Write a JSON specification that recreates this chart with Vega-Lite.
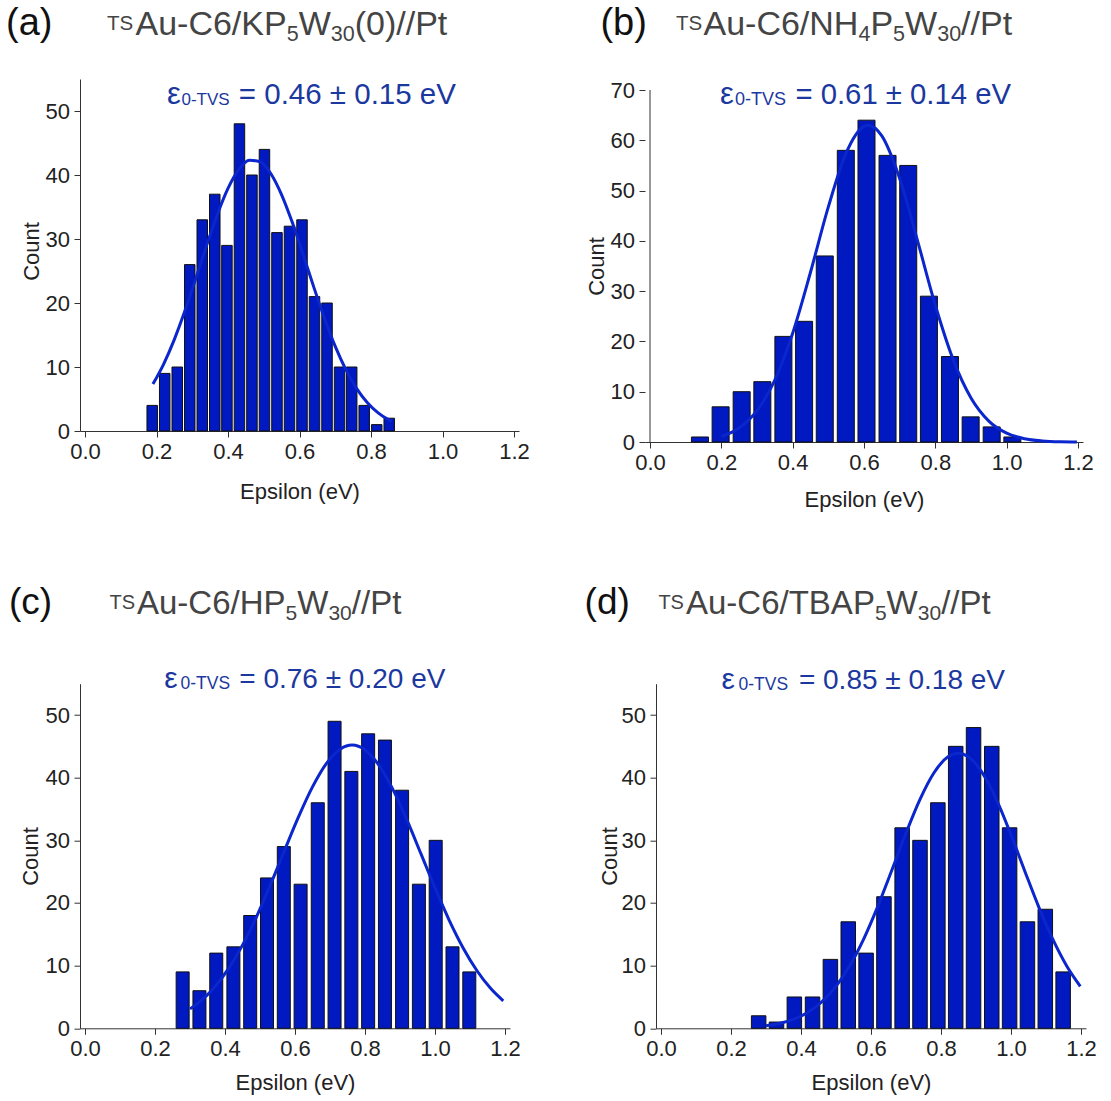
{
  "$schema": "https://vega.github.io/schema/vega-lite/v6.json",
  "background": "white",
  "padding": {"left": 6, "top": 4, "right": 2, "bottom": 2},
  "config": {
    "view": {"stroke": null},
    "font": "Liberation Sans",
    "axis": {
      "grid": false,
      "labelFont": "Liberation Sans",
      "titleFont": "Liberation Sans",
      "labelFontSize": 22,
      "titleFontSize": 22,
      "titleFontWeight": "normal",
      "labelColor": "#222",
      "titleColor": "#222",
      "domainColor": "#333",
      "tickColor": "#333",
      "labelFlush": false,
      "labelOverlap": false,
      "labelBound": false
    },
    "axisX": {"labelPadding": 4},
    "axisY": {"labelPadding": 4.5}
  },
  "datasets": {
    "a_bars": [
      {"eps": 0.188, "count": 4}, {"eps": 0.223, "count": 9}, {"eps": 0.258, "count": 10}, {"eps": 0.293, "count": 26},
      {"eps": 0.328, "count": 33}, {"eps": 0.363, "count": 37}, {"eps": 0.397, "count": 29}, {"eps": 0.432, "count": 48},
      {"eps": 0.467, "count": 40}, {"eps": 0.502, "count": 44}, {"eps": 0.537, "count": 31}, {"eps": 0.572, "count": 32},
      {"eps": 0.607, "count": 33}, {"eps": 0.642, "count": 21}, {"eps": 0.677, "count": 20}, {"eps": 0.712, "count": 10},
      {"eps": 0.746, "count": 10}, {"eps": 0.781, "count": 4}, {"eps": 0.816, "count": 1}, {"eps": 0.851, "count": 2}
    ],
    "a_fit": [
      {"eps": 0.19, "count": 7.33}, {"eps": 0.22, "count": 10.46}, {"eps": 0.25, "count": 14.32}, {"eps": 0.28, "count": 18.85},
      {"eps": 0.31, "count": 23.83}, {"eps": 0.34, "count": 28.96}, {"eps": 0.37, "count": 33.8}, {"eps": 0.40, "count": 37.91},
      {"eps": 0.43, "count": 40.84}, {"eps": 0.46, "count": 42.29}, {"eps": 0.49, "count": 42.06}, {"eps": 0.52, "count": 40.2},
      {"eps": 0.55, "count": 36.91}, {"eps": 0.58, "count": 32.56}, {"eps": 0.61, "count": 27.6}, {"eps": 0.64, "count": 22.48},
      {"eps": 0.67, "count": 17.59}, {"eps": 0.70, "count": 13.22}, {"eps": 0.73, "count": 9.55}, {"eps": 0.76, "count": 6.63},
      {"eps": 0.79, "count": 4.42}, {"eps": 0.82, "count": 2.83}, {"eps": 0.85, "count": 1.74}, {"eps": 0.858, "count": 1.52}
    ],
    "b_bars": [
      {"eps": 0.140, "count": 1}, {"eps": 0.198, "count": 7}, {"eps": 0.257, "count": 10}, {"eps": 0.315, "count": 12},
      {"eps": 0.374, "count": 21}, {"eps": 0.432, "count": 24}, {"eps": 0.490, "count": 37}, {"eps": 0.549, "count": 58},
      {"eps": 0.607, "count": 64}, {"eps": 0.666, "count": 57}, {"eps": 0.724, "count": 55}, {"eps": 0.782, "count": 29},
      {"eps": 0.841, "count": 17}, {"eps": 0.899, "count": 5}, {"eps": 0.958, "count": 3}, {"eps": 1.016, "count": 1}
    ],
    "b_fit": [
      {"eps": 0.20, "count": 1.11}, {"eps": 0.25, "count": 2.79}, {"eps": 0.30, "count": 6.22}, {"eps": 0.35, "count": 12.32},
      {"eps": 0.40, "count": 21.64}, {"eps": 0.45, "count": 33.76}, {"eps": 0.50, "count": 46.75}, {"eps": 0.55, "count": 57.49},
      {"eps": 0.60, "count": 62.78}, {"eps": 0.612, "count": 63.0}, {"eps": 0.65, "count": 60.88}, {"eps": 0.70, "count": 52.41},
      {"eps": 0.75, "count": 40.06}, {"eps": 0.80, "count": 27.19}, {"eps": 0.85, "count": 16.38}, {"eps": 0.90, "count": 8.76},
      {"eps": 0.95, "count": 4.16}, {"eps": 1.00, "count": 1.76}, {"eps": 1.05, "count": 0.66}, {"eps": 1.10, "count": 0.22},
      {"eps": 1.15, "count": 0.06}, {"eps": 1.197, "count": 0.02}
    ],
    "c_bars": [
      {"eps": 0.279, "count": 9}, {"eps": 0.327, "count": 6}, {"eps": 0.375, "count": 12}, {"eps": 0.424, "count": 13},
      {"eps": 0.472, "count": 18}, {"eps": 0.520, "count": 24}, {"eps": 0.568, "count": 29}, {"eps": 0.616, "count": 23},
      {"eps": 0.665, "count": 36}, {"eps": 0.713, "count": 49}, {"eps": 0.761, "count": 41}, {"eps": 0.809, "count": 47},
      {"eps": 0.857, "count": 46}, {"eps": 0.906, "count": 38}, {"eps": 0.954, "count": 23}, {"eps": 1.002, "count": 30},
      {"eps": 1.050, "count": 13}, {"eps": 1.098, "count": 9}
    ],
    "c_fit": [
      {"eps": 0.30, "count": 3.1}, {"eps": 0.33, "count": 4.34}, {"eps": 0.37, "count": 6.56}, {"eps": 0.41, "count": 9.52},
      {"eps": 0.45, "count": 13.28}, {"eps": 0.49, "count": 17.8}, {"eps": 0.53, "count": 22.93}, {"eps": 0.57, "count": 28.38},
      {"eps": 0.61, "count": 33.73}, {"eps": 0.65, "count": 38.53}, {"eps": 0.69, "count": 42.29}, {"eps": 0.73, "count": 44.59},
      {"eps": 0.763, "count": 45.2}, {"eps": 0.80, "count": 44.43}, {"eps": 0.84, "count": 41.97}, {"eps": 0.88, "count": 38.09},
      {"eps": 0.92, "count": 33.22}, {"eps": 0.96, "count": 27.83}, {"eps": 1.00, "count": 22.4}, {"eps": 1.04, "count": 17.32},
      {"eps": 1.08, "count": 12.87}, {"eps": 1.12, "count": 9.19}, {"eps": 1.16, "count": 6.3}, {"eps": 1.195, "count": 4.39}
    ],
    "d_bars": [
      {"eps": 0.279, "count": 2}, {"eps": 0.330, "count": 1}, {"eps": 0.381, "count": 5}, {"eps": 0.433, "count": 5},
      {"eps": 0.484, "count": 11}, {"eps": 0.535, "count": 17}, {"eps": 0.586, "count": 12}, {"eps": 0.637, "count": 21},
      {"eps": 0.689, "count": 32}, {"eps": 0.740, "count": 30}, {"eps": 0.791, "count": 36}, {"eps": 0.842, "count": 45},
      {"eps": 0.893, "count": 48}, {"eps": 0.945, "count": 45}, {"eps": 0.996, "count": 32}, {"eps": 1.047, "count": 17},
      {"eps": 1.098, "count": 19}, {"eps": 1.149, "count": 9}
    ],
    "d_fit": [
      {"eps": 0.30, "count": 0.42}, {"eps": 0.34, "count": 0.81}, {"eps": 0.38, "count": 1.47}, {"eps": 0.42, "count": 2.57},
      {"eps": 0.46, "count": 4.25}, {"eps": 0.50, "count": 6.7}, {"eps": 0.54, "count": 10.06}, {"eps": 0.58, "count": 14.37},
      {"eps": 0.62, "count": 19.55}, {"eps": 0.66, "count": 25.3}, {"eps": 0.70, "count": 31.17}, {"eps": 0.74, "count": 36.55},
      {"eps": 0.78, "count": 40.79}, {"eps": 0.82, "count": 43.33}, {"eps": 0.849, "count": 43.9}, {"eps": 0.88, "count": 43.25},
      {"eps": 0.92, "count": 40.61}, {"eps": 0.96, "count": 36.3}, {"eps": 1.00, "count": 30.88}, {"eps": 1.04, "count": 25.0},
      {"eps": 1.08, "count": 19.27}, {"eps": 1.12, "count": 14.14}, {"eps": 1.16, "count": 9.87}, {"eps": 1.198, "count": 6.7}
    ]
  },
  "bounds": "flush",
  "spacing": 604.7,
  "vconcat": [
    {
      "bounds": "flush",
      "spacing": 126,
      "hconcat": [
        {
          "width": 439, "height": 352,
          "layer": [
            {
              "data": {"name": "a_bars"},
              "mark": {"type": "bar", "orient": "vertical", "width": 10.5, "fill": "#0019c0", "stroke": "#111", "strokeWidth": 1},
              "encoding": {
                "x": {"field": "eps", "type": "quantitative", "scale": {"domain": [0, 1.2], "nice": false, "zero": false},
                  "axis": {"title": "Epsilon (eV)", "values": [0, 0.1, 0.2, 0.3, 0.4, 0.5, 0.6, 0.7, 0.8, 0.9, 1.0, 1.1, 1.2],
                    "labelExpr": "round(datum.value*10) % 2 == 0 ? format(datum.value, '.1f') : ''",
                    "tickSize": {"condition": {"test": "round(datum.value*10) % 2 == 0", "value": 6}, "value": 3},
                    "titleY": 67, "titleBaseline": "alphabetic"}},
                "y": {"field": "count", "type": "quantitative", "stack": null, "scale": {"domain": [0, 55], "nice": false},
                  "axis": {"title": "Count", "values": [0, 5, 10, 15, 20, 25, 30, 35, 40, 45, 50],
                    "labelExpr": "datum.value % 10 == 0 ? datum.label : ''",
                    "tickSize": {"condition": {"test": "datum.value % 10 == 0", "value": 6}, "value": 3},
                    "titleX": -42, "titleY": 172, "titleAngle": -90, "titleAlign": "center", "titleBaseline": "alphabetic"}}
              }
            },
            {
              "data": {"name": "a_fit"},
              "mark": {"type": "line", "color": "#0a26cc", "strokeWidth": 3, "interpolate": "monotone"},
              "encoding": {"x": {"field": "eps", "type": "quantitative"}, "y": {"field": "count", "type": "quantitative"}}
            },
            {"data": {"values": [{}]}, "mark": {"type": "text", "text": "(a)", "align": "left", "baseline": "alphabetic", "dx": -79, "dy": -44.5, "fontSize": 38, "color": "#111"}, "encoding": {"x": {"datum": 0, "type": "quantitative"}, "y": {"datum": 55, "type": "quantitative"}}},
            {"data": {"values": [{}]}, "mark": {"type": "text", "text": "TS", "align": "left", "baseline": "alphabetic", "dx": 22, "dy": -49.5, "fontSize": 20.5, "color": "#444"}, "encoding": {"x": {"datum": 0, "type": "quantitative"}, "y": {"datum": 55, "type": "quantitative"}}},
            {"data": {"values": [{}]}, "mark": {"type": "text", "text": "Au-C6/KP", "align": "left", "baseline": "alphabetic", "dx": 50.5, "dy": -44.5, "fontSize": 34, "color": "#444"}, "encoding": {"x": {"datum": 0, "type": "quantitative"}, "y": {"datum": 55, "type": "quantitative"}}},
            {"data": {"values": [{}]}, "mark": {"type": "text", "text": "5", "align": "left", "baseline": "alphabetic", "dx": 201.7, "dy": -38.5, "fontSize": 21.5, "color": "#444"}, "encoding": {"x": {"datum": 0, "type": "quantitative"}, "y": {"datum": 55, "type": "quantitative"}}},
            {"data": {"values": [{}]}, "mark": {"type": "text", "text": "W", "align": "left", "baseline": "alphabetic", "dx": 213.7, "dy": -44.5, "fontSize": 34, "color": "#444"}, "encoding": {"x": {"datum": 0, "type": "quantitative"}, "y": {"datum": 55, "type": "quantitative"}}},
            {"data": {"values": [{}]}, "mark": {"type": "text", "text": "30", "align": "left", "baseline": "alphabetic", "dx": 245.8, "dy": -38.5, "fontSize": 21.5, "color": "#444"}, "encoding": {"x": {"datum": 0, "type": "quantitative"}, "y": {"datum": 55, "type": "quantitative"}}},
            {"data": {"values": [{}]}, "mark": {"type": "text", "text": "(0)//Pt", "align": "left", "baseline": "alphabetic", "dx": 269.7, "dy": -44.5, "fontSize": 34, "color": "#444"}, "encoding": {"x": {"datum": 0, "type": "quantitative"}, "y": {"datum": 55, "type": "quantitative"}}},
            {"data": {"values": [{}]}, "mark": {"type": "text", "text": "ε", "align": "left", "baseline": "alphabetic", "dx": 82, "dy": 25, "fontSize": 31, "color": "#1b389f"}, "encoding": {"x": {"datum": 0, "type": "quantitative"}, "y": {"datum": 55, "type": "quantitative"}}},
            {"data": {"values": [{}]}, "mark": {"type": "text", "text": "0-TVS", "align": "left", "baseline": "alphabetic", "dx": 96.5, "dy": 25.5, "fontSize": 17, "color": "#1b389f"}, "encoding": {"x": {"datum": 0, "type": "quantitative"}, "y": {"datum": 55, "type": "quantitative"}}},
            {"data": {"values": [{}]}, "mark": {"type": "text", "text": "= 0.46 ± 0.15 eV", "align": "left", "baseline": "alphabetic", "dx": 153.8, "dy": 25, "fontSize": 29.5, "color": "#1b389f"}, "encoding": {"x": {"datum": 0, "type": "quantitative"}, "y": {"datum": 55, "type": "quantitative"}}}
          ]
        },
        {
          "width": 438, "height": 363,
          "layer": [
            {
              "data": {"name": "b_bars"},
              "mark": {"type": "bar", "orient": "vertical", "width": 17, "fill": "#0019c0", "stroke": "#111", "strokeWidth": 1},
              "encoding": {
                "x": {"field": "eps", "type": "quantitative", "scale": {"domain": [0, 1.2], "nice": false, "zero": false},
                  "axis": {"title": "Epsilon (eV)", "values": [0, 0.1, 0.2, 0.3, 0.4, 0.5, 0.6, 0.7, 0.8, 0.9, 1.0, 1.1, 1.2],
                    "labelExpr": "round(datum.value*10) % 2 == 0 ? format(datum.value, '.1f') : ''",
                    "tickSize": {"condition": {"test": "round(datum.value*10) % 2 == 0", "value": 6}, "value": 3},
                    "titleY": 64, "titleBaseline": "alphabetic"}},
                "y": {"field": "count", "type": "quantitative", "stack": null, "scale": {"domain": [0, 72.19], "nice": false},
                  "axis": {"title": "Count", "domain": false, "values": [0, 5, 10, 15, 20, 25, 30, 35, 40, 45, 50, 55, 60, 65, 70],
                    "labelExpr": "datum.value % 10 == 0 ? datum.label : ''",
                    "tickSize": {"condition": {"test": "datum.value % 10 == 0", "value": 6}, "value": 3},
                    "titleX": -42, "titleY": 187, "titleAngle": -90, "titleAlign": "center", "titleBaseline": "alphabetic"}}
              }
            },
            {
              "data": {"name": "b_fit"},
              "mark": {"type": "line", "color": "#0a26cc", "strokeWidth": 3, "interpolate": "monotone"},
              "encoding": {"x": {"field": "eps", "type": "quantitative"}, "y": {"field": "count", "type": "quantitative"}}
            },
            {"data": {"values": [{}]}, "mark": {"type": "rule", "color": "#333", "strokeWidth": 1}, "encoding": {"x": {"datum": 0, "type": "quantitative"}, "y": {"datum": 0, "type": "quantitative"}, "y2": {"datum": 70}}},
            {"data": {"values": [{}]}, "mark": {"type": "text", "text": "(b)", "align": "left", "baseline": "alphabetic", "dx": -49.6, "dy": -55.5, "fontSize": 38, "color": "#111"}, "encoding": {"x": {"datum": 0, "type": "quantitative"}, "y": {"datum": 70, "type": "quantitative"}}},
            {"data": {"values": [{}]}, "mark": {"type": "text", "text": "TS", "align": "left", "baseline": "alphabetic", "dx": 26, "dy": -60.5, "fontSize": 20.5, "color": "#444"}, "encoding": {"x": {"datum": 0, "type": "quantitative"}, "y": {"datum": 70, "type": "quantitative"}}},
            {"data": {"values": [{}]}, "mark": {"type": "text", "text": "Au-C6/NH", "align": "left", "baseline": "alphabetic", "dx": 53.5, "dy": -55.5, "fontSize": 34, "color": "#444"}, "encoding": {"x": {"datum": 0, "type": "quantitative"}, "y": {"datum": 70, "type": "quantitative"}}},
            {"data": {"values": [{}]}, "mark": {"type": "text", "text": "4", "align": "left", "baseline": "alphabetic", "dx": 208.4, "dy": -49.5, "fontSize": 21.5, "color": "#444"}, "encoding": {"x": {"datum": 0, "type": "quantitative"}, "y": {"datum": 70, "type": "quantitative"}}},
            {"data": {"values": [{}]}, "mark": {"type": "text", "text": "P", "align": "left", "baseline": "alphabetic", "dx": 220.4, "dy": -55.5, "fontSize": 34, "color": "#444"}, "encoding": {"x": {"datum": 0, "type": "quantitative"}, "y": {"datum": 70, "type": "quantitative"}}},
            {"data": {"values": [{}]}, "mark": {"type": "text", "text": "5", "align": "left", "baseline": "alphabetic", "dx": 243.1, "dy": -49.5, "fontSize": 21.5, "color": "#444"}, "encoding": {"x": {"datum": 0, "type": "quantitative"}, "y": {"datum": 70, "type": "quantitative"}}},
            {"data": {"values": [{}]}, "mark": {"type": "text", "text": "W", "align": "left", "baseline": "alphabetic", "dx": 255.1, "dy": -55.5, "fontSize": 34, "color": "#444"}, "encoding": {"x": {"datum": 0, "type": "quantitative"}, "y": {"datum": 70, "type": "quantitative"}}},
            {"data": {"values": [{}]}, "mark": {"type": "text", "text": "30", "align": "left", "baseline": "alphabetic", "dx": 287.2, "dy": -49.5, "fontSize": 21.5, "color": "#444"}, "encoding": {"x": {"datum": 0, "type": "quantitative"}, "y": {"datum": 70, "type": "quantitative"}}},
            {"data": {"values": [{}]}, "mark": {"type": "text", "text": "//Pt", "align": "left", "baseline": "alphabetic", "dx": 311.1, "dy": -55.5, "fontSize": 34, "color": "#444"}, "encoding": {"x": {"datum": 0, "type": "quantitative"}, "y": {"datum": 70, "type": "quantitative"}}},
            {"data": {"values": [{}]}, "mark": {"type": "text", "text": "ε", "align": "left", "baseline": "alphabetic", "dx": 69.9, "dy": 14, "fontSize": 31, "color": "#1b389f"}, "encoding": {"x": {"datum": 0, "type": "quantitative"}, "y": {"datum": 70, "type": "quantitative"}}},
            {"data": {"values": [{}]}, "mark": {"type": "text", "text": "0-TVS", "align": "left", "baseline": "alphabetic", "dx": 85, "dy": 14.5, "fontSize": 18, "color": "#1b389f"}, "encoding": {"x": {"datum": 0, "type": "quantitative"}, "y": {"datum": 70, "type": "quantitative"}}},
            {"data": {"values": [{}]}, "mark": {"type": "text", "text": "= 0.61 ± 0.14 eV", "align": "left", "baseline": "alphabetic", "dx": 145.4, "dy": 14, "fontSize": 29.3, "color": "#1b389f"}, "encoding": {"x": {"datum": 0, "type": "quantitative"}, "y": {"datum": 70, "type": "quantitative"}}}
          ]
        }
      ]
    },
    {
      "bounds": "flush",
      "spacing": 146,
      "hconcat": [
        {
          "width": 430, "height": 344.6,
          "layer": [
            {
              "data": {"name": "c_bars"},
              "mark": {"type": "bar", "orient": "vertical", "width": 13, "fill": "#0019c0", "stroke": "#111", "strokeWidth": 1},
              "encoding": {
                "x": {"field": "eps", "type": "quantitative", "scale": {"domain": [0, 1.2], "nice": false, "zero": false},
                  "axis": {"title": "Epsilon (eV)", "values": [0, 0.1, 0.2, 0.3, 0.4, 0.5, 0.6, 0.7, 0.8, 0.9, 1.0, 1.1, 1.2],
                    "labelExpr": "round(datum.value*10) % 2 == 0 ? format(datum.value, '.1f') : ''",
                    "tickSize": {"condition": {"test": "round(datum.value*10) % 2 == 0", "value": 6}, "value": 3},
                    "titleY": 61, "titleBaseline": "alphabetic"}},
                "y": {"field": "count", "type": "quantitative", "stack": null, "scale": {"domain": [0, 55], "nice": false},
                  "axis": {"title": "Count", "values": [0, 5, 10, 15, 20, 25, 30, 35, 40, 45, 50],
                    "labelExpr": "datum.value % 10 == 0 ? datum.label : ''",
                    "tickSize": {"condition": {"test": "datum.value % 10 == 0", "value": 6}, "value": 3},
                    "titleX": -43, "titleY": 172.3, "titleAngle": -90, "titleAlign": "center", "titleBaseline": "alphabetic"}}
              }
            },
            {
              "data": {"name": "c_fit"},
              "mark": {"type": "line", "color": "#0a26cc", "strokeWidth": 3, "interpolate": "monotone"},
              "encoding": {"x": {"field": "eps", "type": "quantitative"}, "y": {"field": "count", "type": "quantitative"}}
            },
            {"data": {"values": [{}]}, "mark": {"type": "text", "text": "(c)", "align": "left", "baseline": "alphabetic", "dx": -76.1, "dy": -70, "fontSize": 37, "color": "#111"}, "encoding": {"x": {"datum": 0, "type": "quantitative"}, "y": {"datum": 55, "type": "quantitative"}}},
            {"data": {"values": [{}]}, "mark": {"type": "text", "text": "TS", "align": "left", "baseline": "alphabetic", "dx": 24.5, "dy": -74.4, "fontSize": 20, "color": "#444"}, "encoding": {"x": {"datum": 0, "type": "quantitative"}, "y": {"datum": 55, "type": "quantitative"}}},
            {"data": {"values": [{}]}, "mark": {"type": "text", "text": "Au-C6/HP", "align": "left", "baseline": "alphabetic", "dx": 52, "dy": -69.4, "fontSize": 33, "color": "#444"}, "encoding": {"x": {"datum": 0, "type": "quantitative"}, "y": {"datum": 55, "type": "quantitative"}}},
            {"data": {"values": [{}]}, "mark": {"type": "text", "text": "5", "align": "left", "baseline": "alphabetic", "dx": 200.5, "dy": -63.4, "fontSize": 21, "color": "#444"}, "encoding": {"x": {"datum": 0, "type": "quantitative"}, "y": {"datum": 55, "type": "quantitative"}}},
            {"data": {"values": [{}]}, "mark": {"type": "text", "text": "W", "align": "left", "baseline": "alphabetic", "dx": 212.2, "dy": -69.4, "fontSize": 33, "color": "#444"}, "encoding": {"x": {"datum": 0, "type": "quantitative"}, "y": {"datum": 55, "type": "quantitative"}}},
            {"data": {"values": [{}]}, "mark": {"type": "text", "text": "30", "align": "left", "baseline": "alphabetic", "dx": 243.4, "dy": -63.4, "fontSize": 21, "color": "#444"}, "encoding": {"x": {"datum": 0, "type": "quantitative"}, "y": {"datum": 55, "type": "quantitative"}}},
            {"data": {"values": [{}]}, "mark": {"type": "text", "text": "//Pt", "align": "left", "baseline": "alphabetic", "dx": 266.8, "dy": -69.4, "fontSize": 33, "color": "#444"}, "encoding": {"x": {"datum": 0, "type": "quantitative"}, "y": {"datum": 55, "type": "quantitative"}}},
            {"data": {"values": [{}]}, "mark": {"type": "text", "text": "ε", "align": "left", "baseline": "alphabetic", "dx": 79.3, "dy": 4.6, "fontSize": 30, "color": "#1b389f"}, "encoding": {"x": {"datum": 0, "type": "quantitative"}, "y": {"datum": 55, "type": "quantitative"}}},
            {"data": {"values": [{}]}, "mark": {"type": "text", "text": "0-TVS", "align": "left", "baseline": "alphabetic", "dx": 95.5, "dy": 5.1, "fontSize": 17.5, "color": "#1b389f"}, "encoding": {"x": {"datum": 0, "type": "quantitative"}, "y": {"datum": 55, "type": "quantitative"}}},
            {"data": {"values": [{}]}, "mark": {"type": "text", "text": "= 0.76 ± 0.20 eV", "align": "left", "baseline": "alphabetic", "dx": 154.3, "dy": 4.6, "fontSize": 28, "color": "#1b389f"}, "encoding": {"x": {"datum": 0, "type": "quantitative"}, "y": {"datum": 55, "type": "quantitative"}}}
          ]
        },
        {
          "width": 430, "height": 344.6,
          "layer": [
            {
              "data": {"name": "d_bars"},
              "mark": {"type": "bar", "orient": "vertical", "width": 14.5, "fill": "#0019c0", "stroke": "#111", "strokeWidth": 1},
              "encoding": {
                "x": {"field": "eps", "type": "quantitative", "scale": {"domain": [0, 1.2], "nice": false, "zero": false},
                  "axis": {"title": "Epsilon (eV)", "values": [0, 0.1, 0.2, 0.3, 0.4, 0.5, 0.6, 0.7, 0.8, 0.9, 1.0, 1.1, 1.2],
                    "labelExpr": "round(datum.value*10) % 2 == 0 ? format(datum.value, '.1f') : ''",
                    "tickSize": {"condition": {"test": "round(datum.value*10) % 2 == 0", "value": 6}, "value": 3},
                    "titleY": 61, "titleBaseline": "alphabetic"}},
                "y": {"field": "count", "type": "quantitative", "stack": null, "scale": {"domain": [0, 55], "nice": false},
                  "axis": {"title": "Count", "values": [0, 5, 10, 15, 20, 25, 30, 35, 40, 45, 50],
                    "labelExpr": "datum.value % 10 == 0 ? datum.label : ''",
                    "tickSize": {"condition": {"test": "datum.value % 10 == 0", "value": 6}, "value": 3},
                    "titleX": -40, "titleY": 172.3, "titleAngle": -90, "titleAlign": "center", "titleBaseline": "alphabetic"}}
              }
            },
            {
              "data": {"name": "d_fit"},
              "mark": {"type": "line", "color": "#0a26cc", "strokeWidth": 3, "interpolate": "monotone"},
              "encoding": {"x": {"field": "eps", "type": "quantitative"}, "y": {"field": "count", "type": "quantitative"}}
            },
            {"data": {"values": [{}]}, "mark": {"type": "text", "text": "(d)", "align": "left", "baseline": "alphabetic", "dx": -76.4, "dy": -70, "fontSize": 37, "color": "#111"}, "encoding": {"x": {"datum": 0, "type": "quantitative"}, "y": {"datum": 55, "type": "quantitative"}}},
            {"data": {"values": [{}]}, "mark": {"type": "text", "text": "TS", "align": "left", "baseline": "alphabetic", "dx": -2.6, "dy": -74.4, "fontSize": 20, "color": "#444"}, "encoding": {"x": {"datum": 0, "type": "quantitative"}, "y": {"datum": 55, "type": "quantitative"}}},
            {"data": {"values": [{}]}, "mark": {"type": "text", "text": "Au-C6/TBAP", "align": "left", "baseline": "alphabetic", "dx": 25, "dy": -69.4, "fontSize": 33, "color": "#444"}, "encoding": {"x": {"datum": 0, "type": "quantitative"}, "y": {"datum": 55, "type": "quantitative"}}},
            {"data": {"values": [{}]}, "mark": {"type": "text", "text": "5", "align": "left", "baseline": "alphabetic", "dx": 213.9, "dy": -63.4, "fontSize": 21, "color": "#444"}, "encoding": {"x": {"datum": 0, "type": "quantitative"}, "y": {"datum": 55, "type": "quantitative"}}},
            {"data": {"values": [{}]}, "mark": {"type": "text", "text": "W", "align": "left", "baseline": "alphabetic", "dx": 225.6, "dy": -69.4, "fontSize": 33, "color": "#444"}, "encoding": {"x": {"datum": 0, "type": "quantitative"}, "y": {"datum": 55, "type": "quantitative"}}},
            {"data": {"values": [{}]}, "mark": {"type": "text", "text": "30", "align": "left", "baseline": "alphabetic", "dx": 256.8, "dy": -63.4, "fontSize": 21, "color": "#444"}, "encoding": {"x": {"datum": 0, "type": "quantitative"}, "y": {"datum": 55, "type": "quantitative"}}},
            {"data": {"values": [{}]}, "mark": {"type": "text", "text": "//Pt", "align": "left", "baseline": "alphabetic", "dx": 280.2, "dy": -69.4, "fontSize": 33, "color": "#444"}, "encoding": {"x": {"datum": 0, "type": "quantitative"}, "y": {"datum": 55, "type": "quantitative"}}},
            {"data": {"values": [{}]}, "mark": {"type": "text", "text": "ε", "align": "left", "baseline": "alphabetic", "dx": 60.6, "dy": 5.6, "fontSize": 30, "color": "#1b389f"}, "encoding": {"x": {"datum": 0, "type": "quantitative"}, "y": {"datum": 55, "type": "quantitative"}}},
            {"data": {"values": [{}]}, "mark": {"type": "text", "text": "0-TVS", "align": "left", "baseline": "alphabetic", "dx": 77.5, "dy": 6.1, "fontSize": 17.5, "color": "#1b389f"}, "encoding": {"x": {"datum": 0, "type": "quantitative"}, "y": {"datum": 55, "type": "quantitative"}}},
            {"data": {"values": [{}]}, "mark": {"type": "text", "text": "= 0.85 ± 0.18 eV", "align": "left", "baseline": "alphabetic", "dx": 137.9, "dy": 5.6, "fontSize": 28, "color": "#1b389f"}, "encoding": {"x": {"datum": 0, "type": "quantitative"}, "y": {"datum": 55, "type": "quantitative"}}}
          ]
        }
      ]
    }
  ]
}
